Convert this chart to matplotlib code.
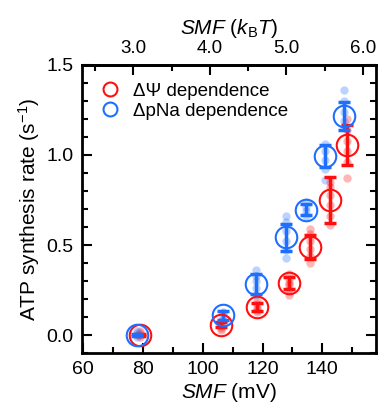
from matplotlib import pyplot as plt
from matplotlib.ticker import MultipleLocator, FixedLocator
import numpy as np

plt.rcParams['font.family'] = ['Liberation Sans', 'DejaVu Sans']
plt.rcParams['mathtext.fontset'] = 'custom'
plt.rcParams['mathtext.rm'] = 'Liberation Sans'
plt.rcParams['mathtext.it'] = 'Liberation Sans:italic'

KBT = 25.6  # mV per kBT

# dPsi dependence (red)
psi_x = [79, 106, 118, 128.8, 135.8, 142.7, 148.2]
psi_y = [0.0, 0.057, 0.156, 0.289, 0.489, 0.748, 1.054]
psi_err = [0.005, 0.015, 0.02, 0.033, 0.067, 0.127, 0.11]
psi_pts = [
    [0.0, 0.01, -0.01, 0.02],
    [0.03, 0.05, 0.06, 0.08, 0.04],
    [0.13, 0.15, 0.17, 0.19, 0.14],
    [0.22, 0.25, 0.28, 0.31, 0.34, 0.29],
    [0.40, 0.44, 0.48, 0.52, 0.56, 0.59],
    [0.61, 0.66, 0.72, 0.78, 0.82, 0.85],
    [0.87, 0.96, 1.02, 1.08, 1.14, 1.20],
]

# dpNa dependence (blue)
na_x = [78, 106.8, 117.9, 127.7, 134.6, 141, 147.1]
na_y = [0.0, 0.109, 0.285, 0.544, 0.696, 0.993, 1.215]
na_err = [0.005, 0.023, 0.055, 0.075, 0.032, 0.06, 0.077]
na_pts = [
    [0.0, 0.01, -0.01, 0.02],
    [0.08, 0.10, 0.12, 0.13],
    [0.22, 0.26, 0.30, 0.33, 0.36],
    [0.43, 0.47, 0.52, 0.58, 0.63, 0.66],
    [0.66, 0.69, 0.71, 0.74],
    [0.86, 0.92, 0.97, 1.02, 1.06],
    [1.15, 1.19, 1.24, 1.30, 1.36],
]

top_ticks = [3.0, 4.0, 5.0, 6.0]
top_minor = [2.5, 3.5, 4.5, 5.5]

red = '#ff1010'
blue = '#1f6fff'

fig = plt.figure(figsize=(3.82, 4.18), dpi=100)
ax = fig.add_axes([0.2147, 0.1555, 0.77, 0.689])

for xs, pts, c in [(psi_x, psi_pts, red), (na_x, na_pts, blue)]:
    for x, p in zip(xs, pts):
        ax.plot([x] * len(p), p, 'o', color=c, alpha=0.3, ms=6, mec='none', zorder=1)

ax.errorbar(psi_x, psi_y, yerr=psi_err, fmt='none', ecolor=red, elinewidth=2.5,
            capsize=4, capthick=2.5, zorder=2)
ax.errorbar(na_x, na_y, yerr=na_err, fmt='none', ecolor=blue, elinewidth=2.5,
            capsize=4, capthick=2.5, zorder=2)
ax.plot(psi_x, psi_y, 'o', mfc='none', mec=red, ms=15.5, mew=1.5, zorder=3)
ax.plot(na_x, na_y, 'o', mfc='none', mec=blue, ms=15.5, mew=1.5, zorder=3)

ax.plot([], [], 'o', mfc='none', mec=red, ms=10, mew=1.5, label='ΔΨ dependence')
ax.plot([], [], 'o', mfc='none', mec=blue, ms=10, mew=1.5, label='ΔpNa dependence')
ax.legend(loc='upper left', frameon=False, fontsize=13.5, handletextpad=0.4,
          borderaxespad=0.3, labelspacing=0.15, handlelength=1.6,
          bbox_to_anchor=(0.0, 0.985))

ax.set_xlim(59.6, 158)
ax.set_ylim(-0.1, 1.5)
ax.set_xticks([60, 80, 100, 120, 140])
ax.xaxis.set_minor_locator(MultipleLocator(10))
ax.yaxis.set_major_locator(MultipleLocator(0.5))
ax.yaxis.set_minor_locator(MultipleLocator(0.1))
ax.yaxis.set_major_formatter(plt.FormatStrFormatter('%.1f'))
ax.tick_params(which='both', direction='in', right=True, labelsize=14, width=1.5)
ax.tick_params(which='major', length=7, pad=6)
ax.tick_params(which='minor', length=4)
ax.tick_params(axis='x', which='both', top=False)
for s in ax.spines.values():
    s.set_linewidth(2)

ax.set_xlabel(r'$\it{SMF}$ (mV)', fontsize=15, labelpad=2)
ax.set_ylabel(r'ATP synthesis rate (s$^{-1}$)', fontsize=15, labelpad=3)

top = ax.secondary_xaxis('top', functions=(lambda v: v / KBT, lambda v: v * KBT))
top.xaxis.set_major_locator(FixedLocator(top_ticks))
top.xaxis.set_minor_locator(FixedLocator(top_minor))
top.xaxis.set_major_formatter(plt.FormatStrFormatter('%.1f'))
top.tick_params(which='both', direction='in', labelsize=13.5, width=1.5)
top.tick_params(which='major', length=7, pad=6)
top.tick_params(which='minor', length=4)
top.spines['top'].set_linewidth(2)
top.set_xlabel(r'$\it{SMF}$ ($k_{\rm B}T$)', fontsize=15, labelpad=4)

fig.savefig('out.png', dpi=100)
